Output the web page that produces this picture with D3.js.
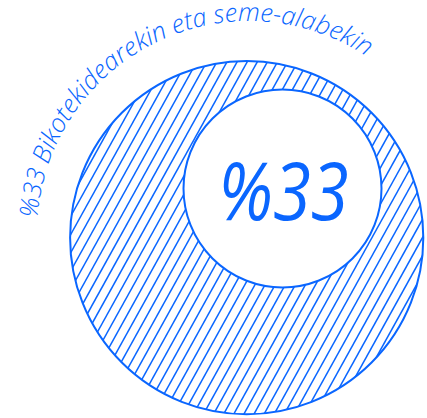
<!DOCTYPE html>
<html>
<head>
<meta charset="utf-8">
<script src="https://cdn.jsdelivr.net/npm/d3@7"></script>
<style>
  html, body { margin: 0; padding: 0; background: #ffffff; }
  svg { display: block; }
</style>
</head>
<body>
<div id="chart"></div>
<script>
// ---- data ----
const categories = ["Bikotekidearekin eta seme-alabekin"];
const values = [33];
const valuePrefix = "%";

// ---- layout ----
const W = 427, H = 418;
const BLUE = "#0a66ff";
const outer = { cx: 246.7, cy: 237.7, r: 176.6 };
const inner = { cx: 282.5, cy: 188.5, r: 99 };
const arcC = { cx: 249, cy: 233, r: 212 };
const hatchAngle = 61 * Math.PI / 180;
const hatchStep = 10.1;
const hatchPhase = 8.8;

const svg = d3.select("#chart").append("svg")
  .attr("width", W).attr("height", H)
  .attr("viewBox", `0 0 ${W} ${H}`);

const defs = svg.append("defs");
defs.append("clipPath").attr("id", "outerClip")
  .append("circle").attr("cx", outer.cx).attr("cy", outer.cy).attr("r", outer.r);

// hatch lines: x + y*cot = c
const cot = 1 / Math.tan(hatchAngle);
const cMin = outer.cx - outer.r + (outer.cy - outer.r) * cot - hatchStep;
const cMax = outer.cx + outer.r + (outer.cy + outer.r) * cot + hatchStep;
const cs = d3.range(Math.floor((cMin - hatchPhase) / hatchStep), Math.ceil((cMax - hatchPhase) / hatchStep) + 1)
  .map(k => hatchPhase + k * hatchStep);

const g = svg.append("g");
g.append("g").attr("clip-path", "url(#outerClip)")
  .selectAll("line").data(cs).join("line")
  .attr("x1", c => c).attr("y1", 0)
  .attr("x2", c => c - H * cot).attr("y2", H)
  .attr("stroke", BLUE).attr("stroke-width", 1.5);

g.append("circle")
  .attr("cx", outer.cx).attr("cy", outer.cy).attr("r", outer.r)
  .attr("fill", "none").attr("stroke", BLUE).attr("stroke-width", 2);

g.selectAll("circle.inner").data(values).join("circle")
  .attr("class", "inner")
  .attr("cx", inner.cx).attr("cy", inner.cy).attr("r", inner.r)
  .attr("fill", "#ffffff").attr("stroke", BLUE).attr("stroke-width", 2);

// big value label
g.selectAll("text.value").data(values).join("text")
  .attr("class", "value")
  .attr("transform", `translate(${inner.cx + 1},${220}) scale(0.85,1)`)
  .attr("text-anchor", "middle")
  .attr("font-family", "'Open Sans', 'Noto Sans', sans-serif")
  .attr("font-style", "italic")
  .attr("font-weight", 500)
  .attr("font-size", 81)
  .attr("fill", BLUE)
  .text(d => valuePrefix + d);

// curved label
const a0 = -86 * Math.PI / 180, a1 = 70 * Math.PI / 180;
const p0 = [arcC.cx + arcC.r * Math.sin(a0), arcC.cy - arcC.r * Math.cos(a0)];
const p1 = [arcC.cx + arcC.r * Math.sin(a1), arcC.cy - arcC.r * Math.cos(a1)];
defs.append("path").attr("id", "labelArc")
  .attr("d", `M${p0[0]},${p0[1]} A${arcC.r},${arcC.r} 0 0 1 ${p1[0]},${p1[1]}`);

g.selectAll("text.cat").data(categories).join("text")
  .attr("class", "cat")
  .attr("font-family", "'Open Sans', 'Noto Sans', sans-serif")
  .attr("font-style", "italic")
  .attr("font-weight", 350)
  .attr("font-size", 25.5)
  .attr("fill", BLUE)
  .append("textPath")
  .attr("href", "#labelArc")
  .attr("startOffset", 0)
  .text((d, i) => valuePrefix + values[i] + " " + d);
</script>
</body>
</html>
